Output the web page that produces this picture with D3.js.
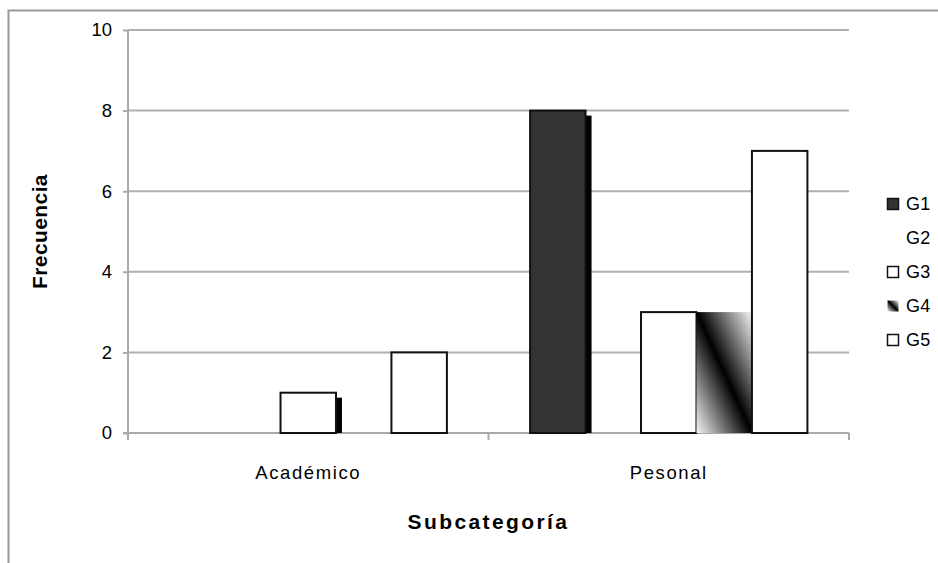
<!DOCTYPE html>
<html>
<head>
<meta charset="utf-8">
<script src="https://cdn.jsdelivr.net/npm/d3@7"></script>
<style>
  html, body { margin: 0; padding: 0; background: #fff; }
  svg { display: block; font-family: "Liberation Sans", Arial, sans-serif; }
</style>
</head>
<body>
<svg id="chart" width="938" height="563"></svg>
<script>
// Frequency per subcategory for each group
const categories = ["Académico", "Pesonal"];
const seriesNames = ["G1", "G2", "G3", "G4", "G5"];
const valuesG1 = [0, 8];
const valuesG2 = [0, 0];
const valuesG3 = [1, 3];
const valuesG4 = [0, 3];
const valuesG5 = [2, 7];
const yTicks = [0, 2, 4, 6, 8, 10];

const seriesValues = [valuesG1, valuesG2, valuesG3, valuesG4, valuesG5];

const svg = d3.select("#chart");
const W = 938, H = 563;
const plot = { left: 128, right: 849, top: 30, bottom: 433 };

// Outer chart frame
svg.append("rect")
  .attr("x", 8.5).attr("y", 10.5)
  .attr("width", W + 20).attr("height", H + 20)
  .attr("fill", "#fff").attr("stroke", "#999").attr("stroke-width", 2);

// Gradient used by the G4 series (dark diagonal fading outward)
const defs = svg.append("defs");
const grad = defs.append("linearGradient")
  .attr("id", "g4grad")
  .attr("x1", 0).attr("y1", 1).attr("x2", 1).attr("y2", 0);
grad.append("stop").attr("offset", "0").attr("stop-color", "#f6f6f6");
grad.append("stop").attr("offset", "0.5").attr("stop-color", "#000");
grad.append("stop").attr("offset", "1").attr("stop-color", "#f6f6f6");

const x0 = d3.scaleBand().domain(categories).range([plot.left, plot.right]).paddingInner(0).paddingOuter(0);
const x1 = d3.scaleBand().domain(seriesNames).range([0, x0.bandwidth()])
  .paddingInner(0).paddingOuter(0.75);
const y = d3.scaleLinear().domain([0, 10]).range([plot.bottom, plot.top]);

// Horizontal gridlines
svg.append("g").selectAll("line").data(yTicks.filter(d => d > 0)).join("line")
  .attr("x1", plot.left).attr("x2", plot.right)
  .attr("y1", d => y(d)).attr("y2", d => y(d))
  .attr("stroke", "#b0b0b0").attr("stroke-width", 2);

// Y axis
const yAxis = d3.axisLeft(y).tickValues(yTicks).tickSize(5).tickPadding(11).tickFormat(d3.format("d"));
const gy = svg.append("g").attr("transform", `translate(${plot.left},0)`).call(yAxis);
gy.select(".domain").remove();
gy.selectAll(".tick line").attr("stroke", "#aaa").attr("stroke-width", 2);
gy.selectAll(".tick text").attr("font-size", 18.5).attr("fill", "#000")
  .attr("font-family", "Liberation Sans, Arial, sans-serif");
svg.append("line")
  .attr("x1", plot.left).attr("x2", plot.left)
  .attr("y1", plot.top).attr("y2", plot.bottom + 7)
  .attr("stroke", "#aaa").attr("stroke-width", 2);

// X axis baseline with category separators
svg.append("line")
  .attr("x1", plot.left - 5).attr("x2", plot.right)
  .attr("y1", y(0)).attr("y2", y(0))
  .attr("stroke", "#aaa").attr("stroke-width", 2);
const sepX = categories.map(c => x0(c) + x0.bandwidth());
svg.append("g").selectAll("line").data(sepX).join("line")
  .attr("x1", d => d).attr("x2", d => d)
  .attr("y1", y(0)).attr("y2", y(0) + 7)
  .attr("stroke", "#aaa").attr("stroke-width", 2);

// Category labels
svg.append("g").selectAll("text").data(categories).join("text")
  .attr("x", d => x0(d) + x0.bandwidth() / 2)
  .attr("y", 479)
  .attr("text-anchor", "middle")
  .attr("font-size", 18.5)
  .attr("letter-spacing", 1.6)
  .text(d => d);

// Bars
const styles = {
  G1: { fill: "#333333", stroke: "#111", shadow: true },
  G2: { fill: "#ffffff", stroke: "none", shadow: false },
  G3: { fill: "#ffffff", stroke: "#111", shadow: true },
  G4: { fill: "url(#g4grad)", stroke: "none", shadow: false },
  G5: { fill: "#ffffff", stroke: "#111", shadow: false }
};

const barData = [];
seriesNames.forEach((s, si) => {
  categories.forEach((c, ci) => {
    barData.push({ series: s, category: c, value: seriesValues[si][ci] });
  });
});

const bars = svg.append("g");
barData.filter(d => d.value > 0).forEach(d => {
  const st = styles[d.series];
  const bx = x0(d.category) + x1(d.series);
  const bw = x1.bandwidth();
  const by = y(d.value);
  const bh = y(0) - by;
  if (st.shadow) {
    bars.append("rect")
      .attr("x", bx + 6).attr("y", by + 5)
      .attr("width", bw).attr("height", bh - 5)
      .attr("fill", "#000");
  }
  bars.append("rect")
    .attr("x", bx).attr("y", by)
    .attr("width", bw).attr("height", bh)
    .attr("fill", st.fill)
    .attr("stroke", st.stroke)
    .attr("stroke-width", 2);
});

// Axis titles
svg.append("text")
  .attr("transform", `translate(47,${(plot.top + plot.bottom) / 2}) rotate(-90)`)
  .attr("text-anchor", "middle")
  .attr("font-size", 21).attr("font-weight", "bold")
  .attr("letter-spacing", 0.4)
  .text("Frecuencia");
svg.append("text")
  .attr("x", (plot.left + plot.right) / 2).attr("y", 529)
  .attr("text-anchor", "middle")
  .attr("font-size", 21).attr("font-weight", "bold")
  .attr("letter-spacing", 2.4)
  .text("Subcategoría");

// Legend
const legend = svg.append("g").attr("transform", "translate(887,198)");
seriesNames.forEach((s, i) => {
  const g = legend.append("g").attr("transform", `translate(0,${i * 34})`);
  const st = styles[s];
  if (s !== "G2") {
    g.append("rect").attr("x", 0.5).attr("y", 0.5).attr("width", 11).attr("height", 11)
      .attr("fill", st.fill)
      .attr("stroke", s === "G4" ? "none" : "#111").attr("stroke-width", 1.5);
  }
  g.append("text").attr("x", 19).attr("y", 12)
    .attr("font-size", 18).attr("letter-spacing", 0.3)
    .text(s);
});
</script>
</body>
</html>
